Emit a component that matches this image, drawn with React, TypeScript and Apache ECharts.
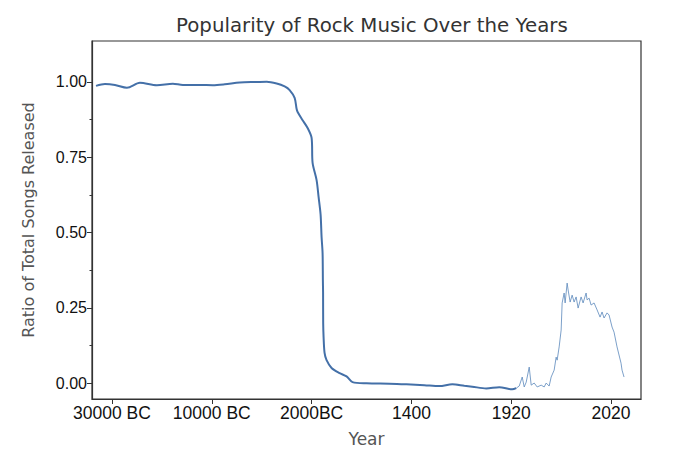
import React, { useEffect, useRef } from "react";
import * as echarts from "echarts";

// x positions are evenly spaced index units; tick labels sit at 0,100,...,500
const tickPositions = [0, 100, 200, 300, 400, 500];
const tickLabels = ["30000 BC", "10000 BC", "2000BC", "1400", "1920", "2020"];
const yTicks = [0, 0.25, 0.5, 0.75, 1.0];
const yMinorTicks = [0.125, 0.375, 0.625, 0.875];

// Smoothed historical series (thick line)
const earlyX = [
  -16, -7, 3, 15, 28, 45, 61, 71, 88, 101, 113, 128, 143, 155, 165, 173, 178,
  183, 185, 186, 191, 196, 200, 201, 205, 207, 209, 210, 211, 211.3, 211.5,
  211.6, 212, 213, 215, 220, 228, 235, 241, 255, 278, 295, 313, 328, 341, 353,
  361, 375, 388, 401, 405,
];
const earlyY = [
  0.987, 0.993, 0.99, 0.981, 0.997, 0.989, 0.994, 0.99, 0.99, 0.989, 0.992,
  0.998, 1.0, 1.001, 0.995, 0.985, 0.973, 0.947, 0.91, 0.9, 0.873, 0.847,
  0.814, 0.731, 0.674, 0.618, 0.56, 0.485, 0.432, 0.342, 0.299, 0.2, 0.153,
  0.1, 0.076, 0.05, 0.033, 0.022, 0.003, -0.001, -0.002, -0.004, -0.007, -0.01,
  -0.004, -0.009, -0.012, -0.018, -0.014, -0.021, -0.017,
];

// Yearly modern series (thin line)
const modernX = [
  405, 408, 411, 413, 415, 418, 420, 423, 426, 430, 433, 435, 438, 440, 443,
  445, 446, 448, 450, 451, 453, 454, 456, 457, 459, 461, 463, 465, 467, 470,
  472, 475, 476, 478, 480, 483, 486, 489, 491, 493, 496, 498, 501, 503, 506,
  510, 511, 513,
];
const modernY = [
  -0.017, -0.01, 0.02, -0.013, 0.003, 0.053, -0.007, 0.0, -0.013, -0.007,
  -0.013, 0.0, -0.01, 0.02, 0.043, 0.086, 0.076, 0.12, 0.176, 0.266, 0.299,
  0.266, 0.332, 0.309, 0.269, 0.292, 0.269, 0.286, 0.249, 0.286, 0.266, 0.299,
  0.276, 0.282, 0.259, 0.266, 0.243, 0.219, 0.236, 0.216, 0.233, 0.226, 0.186,
  0.169, 0.12, 0.066, 0.043, 0.02,
];

const earlyData = earlyX.map((x, i) => [x, earlyY[i]]);
const modernData = modernX.map((x, i) => [x, modernY[i]]);

export default function App() {
  const ref = useRef<HTMLDivElement>(null);
  useEffect(() => {
    if (!ref.current) return;
    const chart = echarts.init(ref.current, null, { renderer: "svg" });
    const axisColor = "#333";
    chart.setOption({
      animation: false,
      backgroundColor: "#fff",
      title: {
        text: "Popularity of Rock Music Over the Years",
        left: 171,
        top: 10,
        textStyle: {
          fontFamily: "DejaVu Sans",
          fontSize: 19.8,
          fontWeight: "normal",
          color: "#333",
        },
      },
      grid: {
        left: 92,
        right: 39,
        top: 41,
        bottom: 68,
        show: true,
        borderColor: axisColor,
        borderWidth: 1.2,
      },
      xAxis: {
        type: "value",
        min: -20,
        max: 530,
        name: "Year",
        nameLocation: "middle",
        nameGap: 31,
        nameTextStyle: { fontFamily: "DejaVu Sans", fontSize: 17, color: "#555" },
        axisLine: { show: true, onZero: false, lineStyle: { color: axisColor, width: 1.2 } },
        axisTick: { show: true, length: 5, customValues: tickPositions, lineStyle: { color: axisColor } },
        axisLabel: {
          customValues: tickPositions,
          margin: 5,
          fontFamily: "Liberation Sans",
          fontSize: 17.5,
          color: "#111",
          formatter: (v: number) => {
            const i = tickPositions.indexOf(Math.round(v));
            return i >= 0 ? tickLabels[i] : "";
          },
        },
        splitLine: { show: false },
      },
      yAxis: [
        {
          type: "value",
          min: -0.053,
          max: 1.136,
          name: "Ratio of Total Songs Released",
          nameLocation: "middle",
          nameGap: 56,
          nameTextStyle: { fontFamily: "DejaVu Sans", fontSize: 16, color: "#555" },
          axisLine: { show: true, onZero: false, lineStyle: { color: axisColor, width: 1.2 } },
          axisTick: { show: true, length: 5, customValues: yTicks, lineStyle: { color: axisColor } },
          axisLabel: {
            customValues: yTicks,
            margin: 5,
            fontFamily: "Liberation Sans",
            fontSize: 16,
            color: "#111",
            formatter: (v: number) => v.toFixed(2),
          },
          splitLine: { show: false },
        },
        {
          type: "value",
          min: -0.053,
          max: 1.136,
          position: "left",
          axisLine: { show: false, onZero: false },
          axisTick: { show: true, length: 2.5, customValues: yMinorTicks, lineStyle: { color: axisColor } },
          axisLabel: { show: false },
          splitLine: { show: false },
        },
      ],
      series: [
        {
          type: "line",
          data: earlyData,
          showSymbol: false,
          smooth: 0.3,
          lineStyle: { color: "#4470a8", width: 2 },
          z: 3,
        },
        {
          type: "line",
          data: modernData,
          showSymbol: false,
          lineStyle: { color: "#5b88bb", width: 0.8 },
          z: 2,
        },
      ],
    });
    return () => chart.dispose();
  }, []);
  return (
    <div
      ref={ref}
      style={{ position: "absolute", left: 0, top: 0, width: 680, height: 467 }}
    />
  );
}
